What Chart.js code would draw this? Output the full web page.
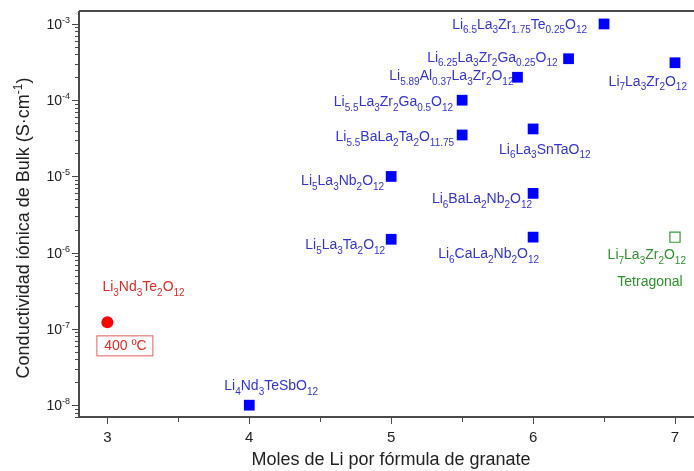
<!DOCTYPE html>
<html>
<head>
<meta charset="utf-8">
<script src="https://cdn.jsdelivr.net/npm/chart.js@4/dist/chart.umd.min.js"></script>
<style>
  html, body { margin: 0; padding: 0; background: #fff; }
  canvas { display: block; }
</style>
</head>
<body>
<canvas id="chart" width="694" height="471"></canvas>
<script>
// Cubic garnets: Li content per formula unit and bulk conductivity (S/cm)
const cubicLi = [6.5, 6.25, 5.89, 7, 5.5, 5.5, 6, 5, 6, 5, 6, 4];
const cubicSigma = [1.0e-3, 3.5e-4, 2.0e-4, 3.1e-4, 1.0e-4, 3.5e-5, 4.2e-5, 1.0e-5, 6.0e-6, 1.5e-6, 1.6e-6, 1.0e-8];
const cubicNames = [
  'Li_{6.5}La_{3}Zr_{1.75}Te_{0.25}O_{12}',
  'Li_{6.25}La_{3}Zr_{2}Ga_{0.25}O_{12}',
  'Li_{5.89}Al_{0.37}La_{3}Zr_{2}O_{12}',
  'Li_{7}La_{3}Zr_{2}O_{12}',
  'Li_{5.5}La_{3}Zr_{2}Ga_{0.5}O_{12}',
  'Li_{5.5}BaLa_{2}Ta_{2}O_{11.75}',
  'Li_{6}La_{3}SnTaO_{12}',
  'Li_{5}La_{3}Nb_{2}O_{12}',
  'Li_{6}BaLa_{2}Nb_{2}O_{12}',
  'Li_{5}La_{3}Ta_{2}O_{12}',
  'Li_{6}CaLa_{2}Nb_{2}O_{12}',
  'Li_{4}Nd_{3}TeSbO_{12}'
];

// Tetragonal phase
const tetraLi = [7];
const tetraSigma = [1.6e-6];
const tetraName = 'Li_{7}La_{3}Zr_{2}O_{12}';
const tetraNote = 'Tetragonal';

// Measured at high temperature
const hotLi = [3];
const hotSigma = [1.22e-7];
const hotName = 'Li_{3}Nd_{3}Te_{2}O_{12}';
const hotNote = '400 ºC';

// Axis ticks and titles
const xTickValues = [3, 3.5, 4, 4.5, 5, 5.5, 6, 6.5, 7];
const xTickLabels = ['3', '', '4', '', '5', '', '6', '', '7'];
const yDecades = [-9, -8, -7, -6, -5, -4, -3, -2];
const yLabelDecades = ['-8', '-7', '-6', '-5', '-4', '-3'];
const xTitle = 'Moles de Li por fórmula de granate';
const yTitle = 'Conductividad iónica de Bulk (S·cm^{-1})';

// Label placement next to each marker (pixel offsets, alignment)
const cubicLabelPlace = [
  { dx: -17, dy: 0,  align: 'right' },
  { dx: -11, dy: -2, align: 'right' },
  { dx: -4,  dy: -2, align: 'right' },
  { dx: 12,  dy: 18, align: 'right' },
  { dx: -9,  dy: 1,  align: 'right' },
  { dx: -8,  dy: 1,  align: 'right' },
  { dx: -34, dy: 20, align: 'left' },
  { dx: -7,  dy: 4,  align: 'right' },
  { dx: -1,  dy: 5,  align: 'right' },
  { dx: -6,  dy: 5,  align: 'right' },
  { dx: 6,   dy: 16, align: 'right' },
  { dx: -25, dy: -20, align: 'left' }
];

const FONT = '"Liberation Sans", Arial, Helvetica, sans-serif';
const BLUE_TEXT = '#3434cc';
const RED_TEXT = '#e02a2a';
const GREEN_TEXT = '#2f8f2f';
const AXIS = '#4a4a4a';
const TEXT = '#222';

function toPoints(xs, ys) {
  return xs.map((x, i) => ({ x: x, y: ys[i] }));
}

// Split "A_{b}C" / "A^{b}" markup into runs with a shift flag
function parseRuns(markup) {
  const runs = [];
  const re = /([_^])\{([^}]*)\}|([^_^]+)/g;
  let m;
  while ((m = re.exec(markup)) !== null) {
    if (m[3] !== undefined) runs.push({ text: m[3], kind: 'base' });
    else runs.push({ text: m[2], kind: m[1] === '_' ? 'sub' : 'sup' });
  }
  return runs;
}

// Draws text with sub/superscripts; y is the middle of the capital letters
function drawRich(ctx, markup, x, y, align, color, size, smallSize, subDrop, supRise) {
  const runs = parseRuns(markup);
  const fontFor = r => (r.kind === 'base' ? size : smallSize) + 'px ' + FONT;
  let width = 0;
  runs.forEach(r => { ctx.font = fontFor(r); r.w = ctx.measureText(r.text).width; width += r.w; });
  let cx = align === 'right' ? x - width : align === 'center' ? x - width / 2 : x;
  const baseline = y + size * 0.36;
  ctx.save();
  ctx.fillStyle = color;
  ctx.textAlign = 'left';
  ctx.textBaseline = 'alphabetic';
  runs.forEach(r => {
    ctx.font = fontFor(r);
    const by = r.kind === 'sub' ? baseline + subDrop : r.kind === 'sup' ? baseline - supRise : baseline;
    ctx.fillText(r.text, cx, by);
    cx += r.w;
  });
  ctx.restore();
  return width;
}

const labelPlugin = {
  id: 'formulaLabels',
  beforeDatasetsDraw(chart) {
    const { ctx, scales: { x, y } } = chart;
    cubicNames.forEach((name, i) => {
      const px = x.getPixelForValue(cubicLi[i]);
      const py = y.getPixelForValue(cubicSigma[i]);
      const p = cubicLabelPlace[i];
      drawRich(ctx, name, px + p.dx, py + p.dy, p.align, BLUE_TEXT, 14, 10, 4.5, 0);
    });

    // tetragonal phase
    const tx = x.getPixelForValue(tetraLi[0]);
    const ty = y.getPixelForValue(tetraSigma[0]);
    drawRich(ctx, tetraName, tx + 11, ty + 17, 'right', GREEN_TEXT, 14, 10, 4.5, 0);
    drawRich(ctx, tetraNote, tx - 25, ty + 44, 'center', GREEN_TEXT, 14, 10, 4.5, 0);

    // high-temperature sample with its boxed note
    const hx = x.getPixelForValue(hotLi[0]);
    const hy = y.getPixelForValue(hotSigma[0]);
    drawRich(ctx, hotName, hx - 5, hy - 36, 'left', RED_TEXT, 14, 10, 4.5, 0);
    ctx.save();
    ctx.strokeStyle = '#e06060';
    ctx.lineWidth = 1;
    ctx.strokeRect(hx - 10.5, hy + 13.5, 56, 20);
    ctx.restore();
    drawRich(ctx, hotNote, hx + 18, hy + 23, 'center', RED_TEXT, 14, 10, 4.5, 0);
  }
};

const axisPlugin = {
  id: 'frameAxes',
  afterDraw(chart) {
    const { ctx, chartArea: a, scales: { x, y } } = chart;
    ctx.save();

    // frame: top edge, left and bottom axes
    ctx.strokeStyle = AXIS;
    ctx.lineWidth = 2;
    ctx.beginPath();
    ctx.moveTo(a.left, a.top); ctx.lineTo(a.right, a.top);
    ctx.moveTo(a.left, a.top); ctx.lineTo(a.left, a.bottom);
    ctx.moveTo(a.left - 1, a.bottom); ctx.lineTo(a.right, a.bottom);
    ctx.stroke();

    // y ticks: decades plus 2..9 minor ticks
    ctx.lineWidth = 1;
    ctx.strokeStyle = AXIS;
    ctx.beginPath();
    yDecades.forEach(e => {
      for (let m = 1; m <= 9; m++) {
        const v = m * Math.pow(10, e);
        if (v < y.min || v > y.max) continue;
        const py = Math.round(y.getPixelForValue(v)) + 0.5;
        const len = m === 1 ? 6 : 3;
        ctx.moveTo(a.left - 1, py); ctx.lineTo(a.left - 1 - len, py);
      }
    });
    // x ticks
    xTickValues.forEach((v, i) => {
      const px = Math.round(x.getPixelForValue(v)) + 0.5;
      const len = xTickLabels[i] ? 6 : 4;
      ctx.moveTo(px, a.bottom + 1); ctx.lineTo(px, a.bottom + 1 + len);
    });
    ctx.stroke();

    // y tick labels as powers of ten
    yLabelDecades.forEach(e => {
      const py = y.getPixelForValue(Math.pow(10, Number(e)));
      drawRich(ctx, '10^{' + e + '}', a.left - 9, py, 'right', TEXT, 14, 9, 0, 6);
    });

    // x tick labels
    ctx.fillStyle = TEXT;
    ctx.font = '15px ' + FONT;
    ctx.textAlign = 'center';
    ctx.textBaseline = 'middle';
    xTickValues.forEach((v, i) => {
      if (!xTickLabels[i]) return;
      ctx.fillText(xTickLabels[i], x.getPixelForValue(v), a.bottom + 21);
    });

    // axis titles
    ctx.font = '18px ' + FONT;
    ctx.textAlign = 'center';
    ctx.fillText(xTitle, 391, 460);

    ctx.translate(23, 228);
    ctx.rotate(-Math.PI / 2);
    drawRich(ctx, yTitle, 0, 0, 'center', TEXT, 18, 12, 0, 7);
    ctx.restore();
  }
};

new Chart(document.getElementById('chart'), {
  type: 'scatter',
  data: {
    datasets: [
      {
        label: 'cubic',
        data: toPoints(cubicLi, cubicSigma),
        pointStyle: 'rect',
        pointRadius: 7.6,
        pointHoverRadius: 7.6,
        backgroundColor: '#0000ff',
        borderWidth: 0
      },
      {
        label: 'tetragonal',
        data: toPoints(tetraLi, tetraSigma),
        pointStyle: 'rect',
        pointRadius: 7.2,
        pointHoverRadius: 7.2,
        backgroundColor: 'rgba(255,255,255,0)',
        borderColor: '#3a9a3a',
        borderWidth: 1.2
      },
      {
        label: '400 ºC',
        data: toPoints(hotLi, hotSigma),
        pointStyle: 'circle',
        pointRadius: 6,
        pointHoverRadius: 6,
        backgroundColor: '#ff0000',
        borderWidth: 0
      }
    ]
  },
  options: {
    responsive: false,
    animation: false,
    devicePixelRatio: 1,
    events: [],
    layout: { padding: { top: 11, left: 0, right: 0, bottom: 0 }, autoPadding: false },
    plugins: { legend: { display: false }, tooltip: { enabled: false } },
    scales: {
      x: {
        type: 'linear',
        min: 2.8,
        max: 7.134,
        grid: { display: false },
        border: { display: false },
        ticks: { display: false },
        afterFit(s) { s.height = 54; }
      },
      y: {
        type: 'logarithmic',
        min: 7.18e-9,
        max: 1.479e-3,
        grid: { display: false },
        border: { display: false },
        ticks: { display: false },
        afterFit(s) { s.width = 79; }
      }
    }
  },
  plugins: [labelPlugin, axisPlugin]
});
</script>
</body>
</html>
